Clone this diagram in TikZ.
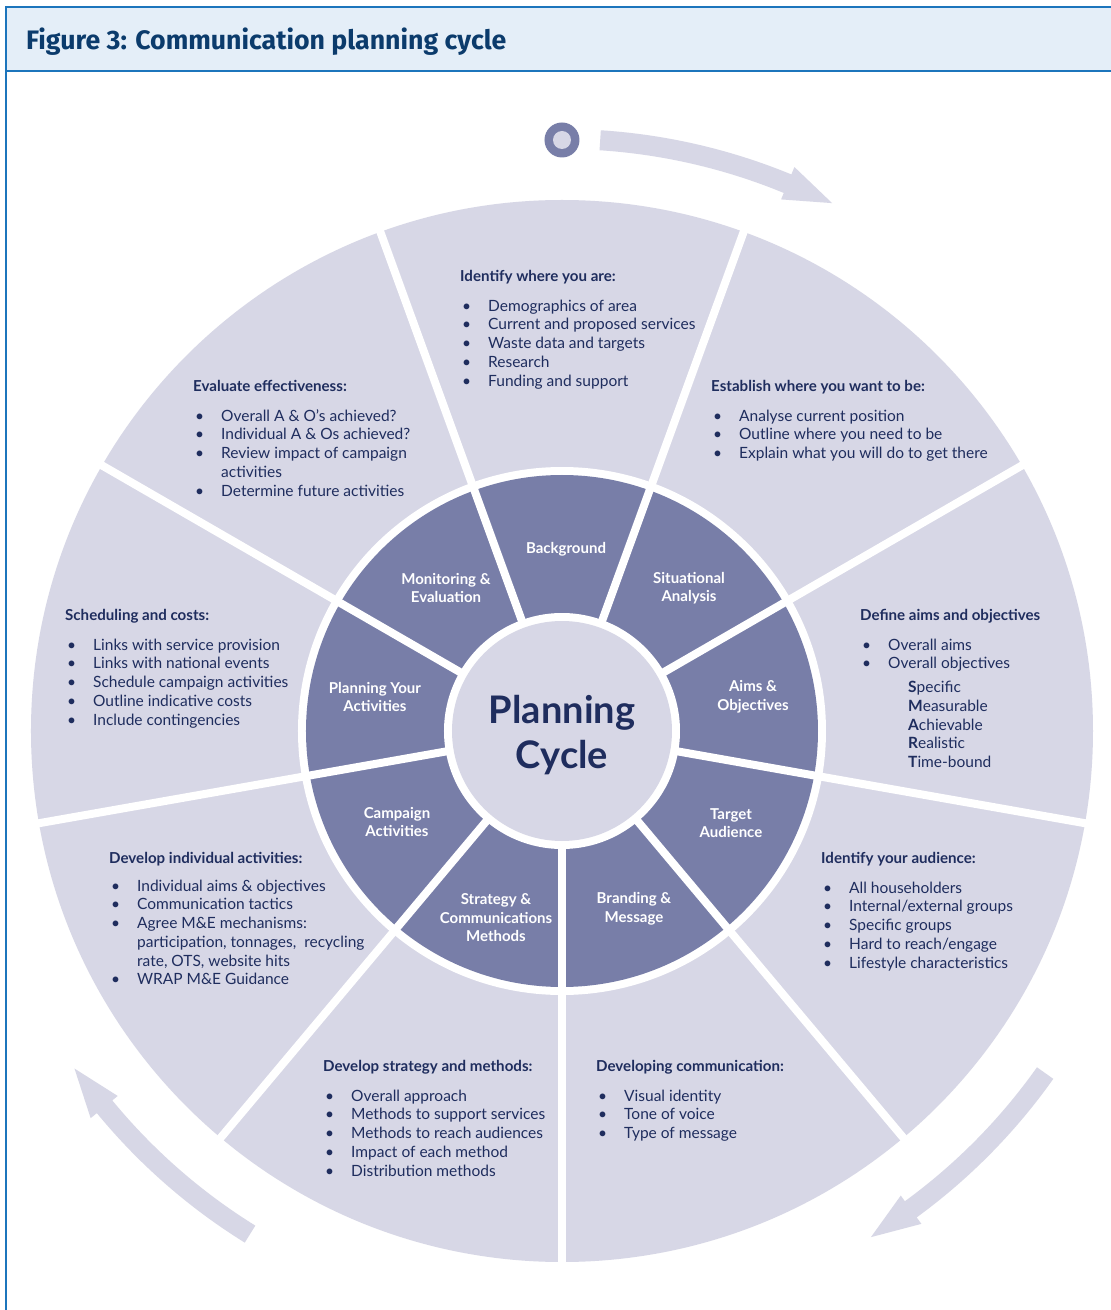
\documentclass[tikz,border=0pt]{standalone}
\usepackage{fontspec}
\setmainfont{Lato}
\newfontfamily\titlefont{Fira Sans}
\definecolor{frameblue}{HTML}{1C75BC}
\definecolor{headfill}{HTML}{E4EEF8}
\definecolor{titleblue}{HTML}{0B3B6C}
\definecolor{wheellight}{HTML}{D7D7E6}
\definecolor{wheeldark}{HTML}{787EA8}
\definecolor{navy}{HTML}{1F2D5E}
\newcommand{\hd}[1]{{\bfseries\fontsize{15.1}{18.75}\selectfont #1}}
\newcommand{\itm}[1]{\hspace*{2pt}\makebox[26pt][l]{\textbullet}#1}
\newcommand{\cnt}[1]{\hspace*{28pt}#1}
\newcommand{\smart}[2]{\hspace*{48pt}{\bfseries #1}#2}
\newcommand{\cyclearrow}[2]{\fill[wheellight] (#1:602) arc[start angle=#1, end angle=#2, radius=602] -- (#2:610) -- ({#2-4.7}:593) -- (#2:575) -- (#2:582) arc[start angle=#2, end angle=#1, radius=582] -- cycle;}
\tikzset{
  ringlabel/.style={text=white, font=\bfseries\fontsize{15}{18.5}\selectfont, align=center},
  infobox/.style={text=navy, font=\fontsize{15.5}{18.75}\selectfont, align=left, anchor=north west, inner sep=0pt}
}
\begin{document}
\begin{tikzpicture}[x=1pt, y=1pt]
            \useasboundingbox (-562,731) rectangle (549,-579);
            \fill[white] (-562,731) rectangle (549,-579);
            \filldraw[fill = headfill, draw = frameblue, line width = 2.5pt] (-556,-590) -- (-556,724) -- (560,724) -- (560,660) -- (-556,660);
            \node[anchor = base west, inner sep = 0pt, text = titleblue, font = \titlefont\bfseries\fontsize{26.7}{30}\selectfont] (title) at (-536,681) {Figure 3: Communication planning cycle};
            \fill[wheellight] (0,0) circle[radius = 531];
            \fill[white] (0,0) circle[radius = 264];
            \fill[wheeldark] (0,0) circle[radius = 256];
            \foreach \a in {-90,-50,...,230}
                \draw[white, line width = 8pt] (0,0) -- (\a:535);
            \fill[white] (0,0) circle[radius = 118];
            \fill[wheellight] (0,0) circle[radius = 110];
            \cyclearrow{86.3}{67.6}
            \cyclearrow{-35.3}{-53.9}
            \cyclearrow{238.2}{219.4}
            \fill[wheeldark] (0,591) circle[radius = 17.5];
            \fill[wheellight] (0,591) circle[radius = 9];
            \node[text = navy, font = \bfseries\fontsize{38}{45}\selectfont, align = center] (hub) at (0,-4) {Planning\\Cycle};
            \begin{scope}[every node/.append style = {ringlabel}]
                \node (bg) at (4,182) {Background};
                \node (sit) at (127,143) {Situational\\Analysis};
                \node (aims) at (191,34) {Aims \&\\Objectives};
                \node (target) at (169,-92) {Target\\Audience};
                \node (brand) at (72,-178) {Branding \&\\Message};
                \node (strat) at (-66,-187) {Strategy \&\\Communications\\Methods};
                \node (camp) at (-165,-91) {Campaign\\Activities};
                \node (plan) at (-187,34) {Planning Your\\Activities};
                \node (mon) at (-116,143) {Monitoring \&\\Evaluation};
            \end{scope}
            \begin{scope}[every node/.append style = {infobox}]
                \node (where) at (-102,461) {\hd{Identify where you are:}\\[11pt]
                    \itm{Demographics of area}\\
                    \itm{Current and proposed services}\\
                    \itm{Waste data and targets}\\
                    \itm{Research}\\
                    \itm{Funding and support}};
                \node (want) at (149,351) {\hd{Establish where you want to be:}\\[11pt]
                    \itm{Analyse current position}\\
                    \itm{Outline where you need to be}\\
                    \itm{Explain what you will do to get there}};
                \node (define) at (298,122) {\hd{Define aims and objectives}\\[11pt]
                    \itm{Overall aims}\\
                    \itm{Overall objectives}\\[5pt]
                    \smart{S}{pecific}\\
                    \smart{M}{easurable}\\
                    \smart{A}{chievable}\\
                    \smart{R}{ealistic}\\
                    \smart{T}{ime-bound}};
                \node (audience) at (259,-121) {\hd{Identify your audience:}\\[11pt]
                    \itm{All householders}\\
                    \itm{Internal/external groups}\\
                    \itm{Specific groups}\\
                    \itm{Hard to reach/engage}\\
                    \itm{Lifestyle characteristics}};
                \node (comms) at (34,-329) {\hd{Developing communication:}\\[11pt]
                    \itm{Visual identity}\\
                    \itm{Tone of voice}\\
                    \itm{Type of message}};
                \node (strategy) at (-239,-329) {\hd{Develop strategy and methods:}\\[11pt]
                    \itm{Overall approach}\\
                    \itm{Methods to support services}\\
                    \itm{Methods to reach audiences}\\
                    \itm{Impact of each method}\\
                    \itm{Distribution methods}};
                \node (individual) at (-453,-121) {\hd{Develop individual activities:}\\[9pt]
                    \itm{Individual aims \& objectives}\\
                    \itm{Communication tactics}\\
                    \itm{Agree M\&E mechanisms:}\\
                    \cnt{participation, tonnages,\ \ recycling}\\
                    \cnt{rate, OTS, website hits}\\
                    \itm{WRAP M\&E Guidance}};
                \node (schedule) at (-497,122) {\hd{Scheduling and costs:}\\[11pt]
                    \itm{Links with service provision}\\
                    \itm{Links with national events}\\
                    \itm{Schedule campaign activities}\\
                    \itm{Outline indicative costs}\\
                    \itm{Include contingencies}};
                \node (evaluate) at (-369,351) {\hd{Evaluate effectiveness:}\\[11pt]
                    \itm{Overall A \& O’s achieved?}\\
                    \itm{Individual A \& Os achieved?}\\
                    \itm{Review impact of campaign}\\
                    \cnt{activities}\\
                    \itm{Determine future activities}};
            \end{scope}
        \end{tikzpicture}
\end{document}
